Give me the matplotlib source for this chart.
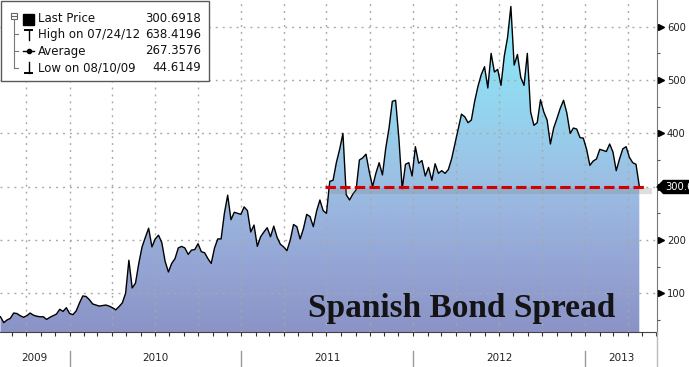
import numpy as np
import pandas as pd
import matplotlib
matplotlib.use("Agg")
import matplotlib.pyplot as plt
import matplotlib.dates as mdates
import matplotlib.transforms as mtransforms
from matplotlib.colors import LinearSegmentedColormap
from matplotlib.patches import PathPatch, Rectangle, Polygon
from matplotlib.lines import Line2D

# weekly spread values (bp)
spread = [
    56, 45, 50, 53, 63, 62, 58, 55, 58, 63,
    59, 57, 56, 56, 51, 55, 58, 61, 70, 66,
    73, 62, 60, 67, 82, 95, 94, 88, 80, 78,
    76, 77, 78, 76, 73, 69, 75, 82, 100, 162,
    110, 119, 156, 187, 205, 222, 187, 202, 209, 195,
    160, 140, 156, 165, 185, 188, 185, 173, 181, 182,
    193, 178, 176, 165, 156, 185, 202, 202, 250, 284,
    238, 252, 250, 248, 262, 255, 215, 228, 188, 206,
    215, 223, 206, 226, 205, 192, 187, 180, 200, 229,
    225, 202, 221, 248, 244, 225, 254, 275, 255, 250,
    310, 312, 345, 370, 400, 285, 275, 286, 294, 350,
    354, 361, 328, 300, 325, 345, 322, 372, 410, 460,
    462, 390, 296, 342, 345, 320, 375, 344, 349, 320,
    336, 312, 343, 325, 330, 325, 332, 352, 380, 408,
    436, 431, 420, 425, 460, 488, 510, 525, 485, 550,
    515, 520, 490, 545, 580, 638, 528, 548, 505, 490,
    550, 440, 415, 420, 463, 440, 425, 380, 410, 428,
    447, 462, 438, 400, 410, 408, 392, 391, 370, 340,
    348, 352, 370, 368, 366, 380, 365, 330, 352, 371,
    375, 355, 345, 342, 301,
]
start_date = "2009-08-07"
dates = pd.date_range(start_date, periods=len(spread), freq="7D")

legend_labels = ["Last Price", "High on 07/24/12", "Average", "Low on 08/10/09"]
legend_values = ["300.6918", "638.4196", "267.3576", "44.6149"]
last_label = "300.6918"

y_ticks = [100, 200, 300, 400, 500, 600]
y_ticklabels = ["100", "200", "", "400", "500", "600"]  # 300 hidden under the tag
y_minor = [50, 150, 250, 350, 450, 550]
years = [2009, 2010, 2011, 2012, 2013]

ref_level = 300
ref_start, ref_end = "2011-06-28", "2013-05-12"
title = "Spanish Bond Spread"

# ---- figure / axes geometry (pixels) ----
W, H = 689, 367
fig = plt.figure(figsize=(W / 100, H / 100), dpi=100)
fig.patch.set_facecolor("white")
ax_right, ax_bottom = 656.7, 332
ax = fig.add_axes([0, (H - ax_bottom) / H, ax_right / W, ax_bottom / H])
pix = mtransforms.Affine2D().scale(1 / W, -1 / H).translate(0, 1) + fig.transFigure

x0, x1 = pd.Timestamp("2009-08-06"), pd.Timestamp("2013-06-02")
y0, y1 = 27.4, 650.1
ax.set_xlim(x0, x1)
ax.set_ylim(y0, y1)

# gradient fill under the line
cmap = LinearSegmentedColormap.from_list("bbg", [
    (0.0, "#8b93c6"), (0.2, "#94a5d5"), (0.36, "#9ab5df"),
    (0.52, "#9ac6e7"), (0.68, "#94d5ee"), (0.84, "#8ce2f6"), (1.0, "#86eefc")])
poly = ax.fill_between(dates, spread, y0, color="none", lw=0)
clip = PathPatch(poly.get_paths()[0], transform=ax.transData, fc="none", ec="none")
ax.add_patch(clip)
grad = np.linspace(0, 1, 256).reshape(-1, 1)
im = ax.imshow(grad, cmap=cmap, origin="lower", aspect="auto", zorder=1,
               extent=[mdates.date2num(x0), mdates.date2num(x1), y0, y1])
im.set_clip_path(clip)

ax.plot(dates, spread, color="black", lw=1.0, zorder=4)

# reference level with shadow
ax.plot(pd.to_datetime([ref_start, ref_end]) + pd.Timedelta(days=12), [ref_level - 8.5] * 2,
        color="#808080", alpha=0.25, lw=4.5, solid_capstyle="butt", zorder=4)
ax.plot(pd.to_datetime([ref_start, ref_end]), [ref_level] * 2, color="#d40000",
        lw=2.2, dashes=(3.4, 1.4), zorder=5)

# grid
ax.xaxis.set_major_locator(mdates.MonthLocator(bymonth=[1, 4, 7, 10]))
ax.xaxis.set_minor_locator(mdates.MonthLocator())
ax.xaxis.set_major_formatter(plt.NullFormatter())
ax.set_axisbelow(False)
grid_kw = dict(color="#a8a8a8", lw=1.0, dashes=(1.4, 3.6))
ax.grid(True, which="major", axis="both", **grid_kw)
ax.tick_params(axis="x", which="both", direction="out", length=3, width=0.8,
               color="#333333")

ax.yaxis.tick_right()
ax.set_yticks(y_ticks)
ax.set_yticklabels(y_ticklabels)
ax.set_yticks(y_minor, minor=True)
ax.tick_params(axis="y", which="major", length=0, pad=7.3, labelsize=7.2,
               labelcolor="#222222")
ax.tick_params(axis="y", which="minor", length=2.5, width=0.8, color="#555555")
ax.plot([1.0 + 4 / ax_right] * len(y_ticks), y_ticks, ">", ms=4.5, color="black",
        transform=ax.get_yaxis_transform(), clip_on=False, zorder=6)

for s in ["top", "left"]:
    ax.spines[s].set_visible(False)
ax.spines["right"].set_color("#777777")
ax.spines["bottom"].set_color("#444444")
fig.add_artist(Line2D([ax_right, ax_right], [ax_bottom, H], color="#bbbbbb",
                      lw=1, transform=pix))

# year labels and separators on the bottom band
band = mtransforms.blended_transform_factory(ax.transData, pix)
bounds = [x0] + [pd.Timestamp(f"{y}-01-01") for y in years[1:]] + [x1]
for i, yr in enumerate(years):
    mid = bounds[i] + (bounds[i + 1] - bounds[i]) / 2
    ax.text(mid, 358, str(yr), transform=band, ha="center", va="center",
            fontsize=7.5, color="#222222", clip_on=False)
for b in bounds[1:-1]:
    ax.add_artist(Line2D([b, b], [351, H], color="#999999", lw=1,
                         transform=band, clip_on=False))

# last price tag (runs off the right edge, as in the original)
tag = Polygon([(657, 187), (663.5, 180.5), (W + 2, 180.5), (W + 2, 193.5), (663.5, 193.5)],
              closed=True, fc="black", ec="black", transform=pix)
fig.add_artist(tag)
fig.text(665.5, 187.5, last_label, transform=pix, ha="left", va="center",
         fontsize=7.2, color="white")

# title text
fig.text(308, 317.3, title, transform=pix, ha="left", va="baseline",
         family="Liberation Serif", fontweight="bold", fontsize=24, color="#141414")

# legend box
fig.add_artist(Rectangle((1, 1), 208, 80, fc="white", ec="#5a5a5a", lw=1, transform=pix))
fig.add_artist(Rectangle((11, 13), 6, 6, fc="white", ec="#666666", lw=0.8, transform=pix))
fig.add_artist(Line2D([12.3, 15.7], [16, 16], color="#666666", lw=0.8, transform=pix))
rows = [19, 34.3, 51, 67.7]
fig.add_artist(Line2D([14, 14], [19, rows[3]], color="#777777", lw=0.8, transform=pix))
for r in rows[1:]:
    fig.add_artist(Line2D([14, 18], [r, r], color="#777777", lw=0.8, transform=pix))
fig.add_artist(Rectangle((23, 13.5), 11, 11, fc="black", ec="black", transform=pix))
fig.add_artist(Line2D([25, 32], [29.5, 29.5], color="black", lw=1.4, transform=pix))
fig.add_artist(Line2D([28.5, 28.5], [29.5, 40], color="black", lw=1, transform=pix))
fig.add_artist(Line2D([23, 34], [51, 51], color="black", lw=1, transform=pix))
fig.add_artist(Line2D([28.5], [51], color="black", marker="o", ms=3, transform=pix))
fig.add_artist(Line2D([28.5, 28.5], [62, 73], color="black", lw=1, transform=pix))
fig.add_artist(Line2D([25, 32], [73, 73], color="black", lw=1.4, transform=pix))
for r, lab, val in zip(rows, legend_labels, legend_values):
    fig.text(37.5, r, lab, transform=pix, ha="left", va="center", fontsize=8.5,
             color="#111111")
    fig.text(201, r, val, transform=pix, ha="right", va="center", fontsize=8.5,
             color="#111111")

fig.savefig("out.png", dpi=100)
